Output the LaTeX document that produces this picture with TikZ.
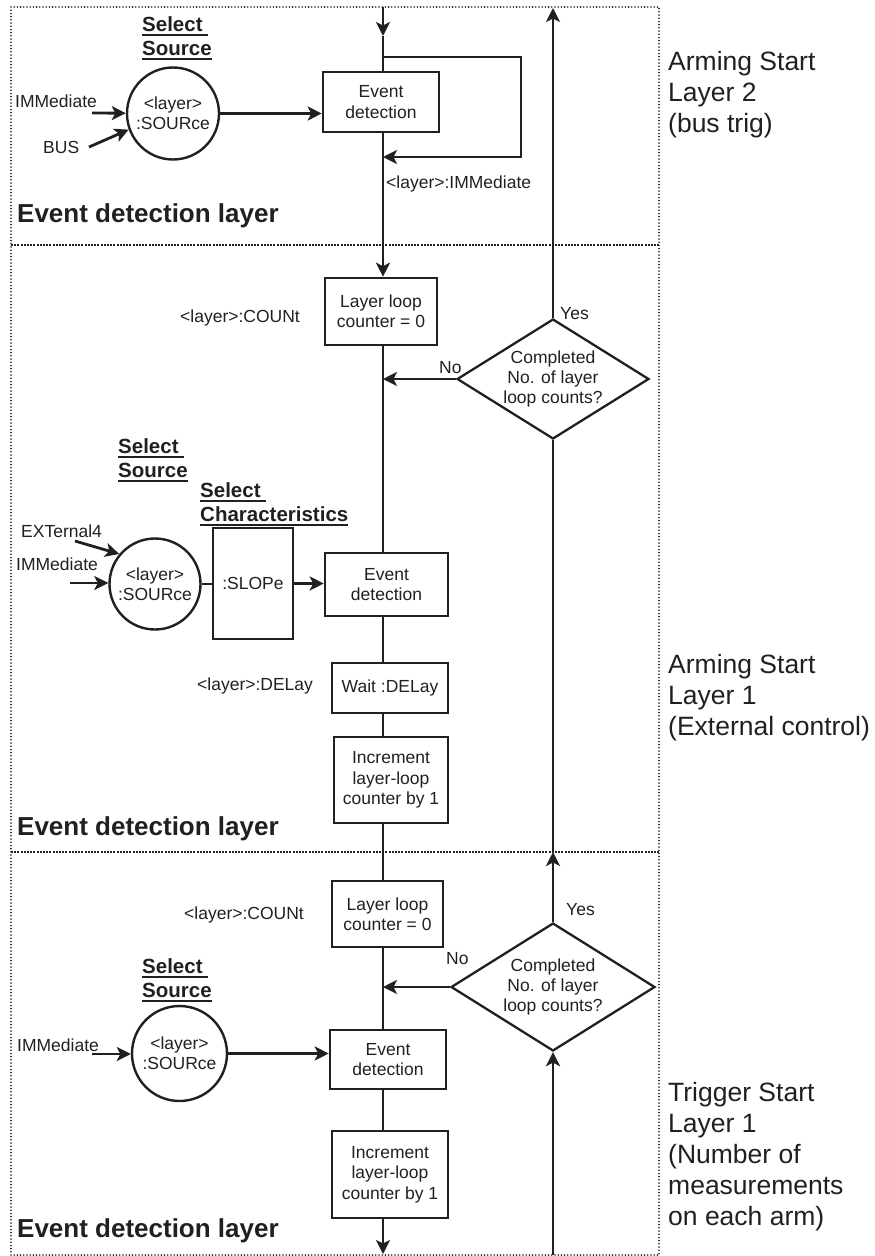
\documentclass[tikz,border=0pt]{standalone}
\usepackage{fontspec}
\setmainfont{Liberation Sans}
\usepackage{xcolor}
\usepackage{tikz}
\usetikzlibrary{arrows.meta, shapes.geometric}

\definecolor{ink}{RGB}{35,31,32}
\newcommand{\selul}[1]{\setbox0\hbox{#1}\leavevmode\rlap{\rule[-4.5pt]{\wd0}{2pt}}\box0}

\begin{document}
\begin{tikzpicture}[
    x=1pt, y=-1pt,
    color=ink,
    font=\fontsize{17.5}{20.3}\selectfont,
    conn/.style={line width=2.8pt},
    arr/.style={line width=2.8pt, -{Stealth[length=14pt, width=14pt, inset=3.5pt]}},
    box/.style={draw, line width=2.6pt, rectangle, inner sep=2pt, align=center},
    src/.style={draw, line width=2.4pt, circle, inner sep=0pt, minimum size=92pt, align=center},
    dia/.style={draw, line width=2.3pt, diamond, inner sep=0pt, shape aspect=1.6, align=center},
    lbl/.style={anchor=base west, inner sep=0pt},
    sel/.style={anchor=base west, inner sep=0pt, align=left, font=\fontsize{20.5}{24}\selectfont\bfseries},
    layername/.style={anchor=base west, inner sep=0pt, font=\fontsize{26}{30}\selectfont\bfseries},
    side/.style={anchor=base west, inner sep=0pt, align=left, font=\fontsize{26.5}{31}\selectfont},
    outer/.style={line width=1.8pt, line cap=round, dash pattern=on 0pt off 3.2pt},
    divider/.style={line width=1.4pt, dash pattern=on 2pt off 1.2pt}
]
\useasboundingbox (0,0) rectangle (875,1256);

% Frame and layer dividers
\draw[outer] (11,7) rectangle (659,1255);
\coordinate (d1l) at (11,245);
\coordinate (d1r) at (659,245);
\coordinate (d2l) at (11,852);
\coordinate (d2r) at (659,852);
\draw[divider] (d1l) -- (d1r);
\draw[divider] (d2l) -- (d2r);

% Main flow line
\coordinate (spin) at (383,7);
\coordinate (spinmid) at (383,36);
\coordinate (spinbot) at (383,1254);
\coordinate (uptop) at (553,8);
\coordinate (upbot) at (553,1255);

% Arming start layer 2 (top)
\node[box, minimum width=116pt, minimum height=60pt] (evt1) at (381,102) {Event\\detection};
\node[src] (src1) at (173,113.5) {<layer>\\:SOURce};
\node[sel] (sel1) at (142,55) {\selul{Select\ }\\\selul{Source}};
\node[lbl] (imm1) at (15,107) {IMMediate};
\node[lbl] (bus) at (43,153) {BUS};
\coordinate (imm1e) at (92,113);
\coordinate (buse) at (89,147);
\coordinate (loopa) at (383,57);
\coordinate (loopb) at (383,157);
\node[lbl] (immlbl) at (386,188) {<layer>:IMMediate};
\node[layername] (edl1) at (17,222) {Event detection layer};
\node[side] (arm2) at (668,132) {Arming Start\\Layer 2\\(bus trig)};

% Arming start layer 1 (middle)
\node[box, minimum width=112pt, minimum height=67pt] (cnt1) at (381,311.5) {Layer loop\\counter = 0};
\node[lbl] (cntlbl1) at (180,322) {<layer>:COUNt};
\node[dia, minimum width=192pt, minimum height=120pt] (dec1) at (553,379) {Completed\\No. of layer\\loop counts?};
\node[lbl] (yes1) at (560,319) {Yes};
\node[lbl] (no1) at (439,373) {No};
\node[sel] (sel2) at (118,477) {\selul{Select\ }\\\selul{Source}};
\node[sel] (sel3) at (200,521) {\selul{Select\ }\\\selul{Characteristics}};
\node[lbl] (ext4) at (21,537) {EXTernal4};
\node[lbl] (imm2) at (16,570) {IMMediate};
\coordinate (ext4e) at (75,541);
\coordinate (imm2e) at (70,583);
\node[src, minimum size=91pt] (src2) at (155,584) {<layer>\\:SOURce};
\node[box, minimum width=80pt, minimum height=111pt] (slope) at (253,583.5) {:SLOPe};
\node[box, minimum width=123pt, minimum height=63pt] (evt2) at (386.5,584.5) {Event\\detection};
\node[box, minimum width=116pt, minimum height=50pt] (wait) at (390,688) {Wait :DELay};
\node[lbl] (dellbl) at (197,690) {<layer>:DELay};
\node[box, minimum width=114pt, minimum height=86pt] (incr1) at (391,780) {Increment\\layer-loop\\counter by 1};
\node[layername] (edl2) at (17,835) {Event detection layer};
\node[side] (arm1) at (668,735) {Arming Start\\Layer 1\\(External control)};

% Trigger start layer 1 (bottom)
\node[box, minimum width=111pt, minimum height=66pt] (cnt2) at (387.5,914) {Layer loop\\counter = 0};
\node[lbl] (cntlbl2) at (184,919) {<layer>:COUNt};
\node[dia, minimum width=204pt, minimum height=128pt] (dec2) at (553,987) {Completed\\No. of layer\\loop counts?};
\node[lbl] (yes2) at (566,915) {Yes};
\node[lbl] (no2) at (446,964) {No};
\node[sel] (sel4) at (142,997) {\selul{Select\ }\\\selul{Source}};
\node[src, minimum size=95pt] (src3) at (179.5,1053.5) {<layer>\\:SOURce};
\node[lbl] (imm3) at (17,1051) {IMMediate};
\coordinate (imm3e) at (92,1054);
\node[box, minimum width=116pt, minimum height=59pt] (evt3) at (388,1059.5) {Event\\detection};
\node[box, minimum width=116pt, minimum height=87pt] (incr2) at (390,1174.5) {Increment\\layer-loop\\counter by 1};
\node[layername] (edl3) at (17,1237) {Event detection layer};
\node[side] (trig1) at (668,1225) {Trigger Start\\Layer 1\\(Number of\\measurements\\on each arm)};

% Spine connectors
\draw[arr] (spin) -- (spinmid);
\draw[conn] (spinmid) -- (evt1.north -| spin);
\draw[arr] (loopa) -- ++(138,0) |- (loopb);
\draw[arr] (evt1.south -| spin) -- (cnt1.north -| spin);
\draw[conn] (cnt1.south -| spin) -- (evt2.north -| spin);
\draw[conn] (evt2.south -| spin) -- (wait.north -| spin);
\draw[conn] (wait.south -| spin) -- (incr1.north -| spin);
\draw[conn] (incr1.south -| spin) -- (cnt2.north -| spin);
\draw[conn] (cnt2.south -| spin) -- (evt3.north -| spin);
\draw[conn] (evt3.south -| spin) -- (incr2.north -| spin);
\draw[arr] (incr2.south -| spin) -- (spinbot);

% Decisions
\draw[arr] (dec1.west) -- (dec1.west -| spin);
\draw[arr] (dec1.north) -- (uptop);
\draw[arr] (dec2.west) -- (dec2.west -| spin);
\draw[arr] (dec2.north) -- (dec2.north |- d2l);
\draw[conn] (dec2.north |- d2l) -- (dec1.south);
\draw[arr] (upbot) -- (dec2.south);

% Source inputs
\draw[arr] (imm1e) -- (src1);
\draw[arr] (buse) -- (src1.200);
\draw[arr] (src1) -- (src1 -| evt1.west);
\draw[arr] (ext4e) -- (src2.140);
\draw[arr] (imm2e) -- (imm2e -| src2.west);
\draw[conn] (src2) -- (src2 -| slope.west);
\draw[arr] (slope.east) -- (slope.east -| evt2.west);
\draw[arr] (imm3e) -- (imm3e -| src3.west);
\draw[arr] (src3) -- (src3 -| evt3.west);

\end{tikzpicture}
\end{document}
